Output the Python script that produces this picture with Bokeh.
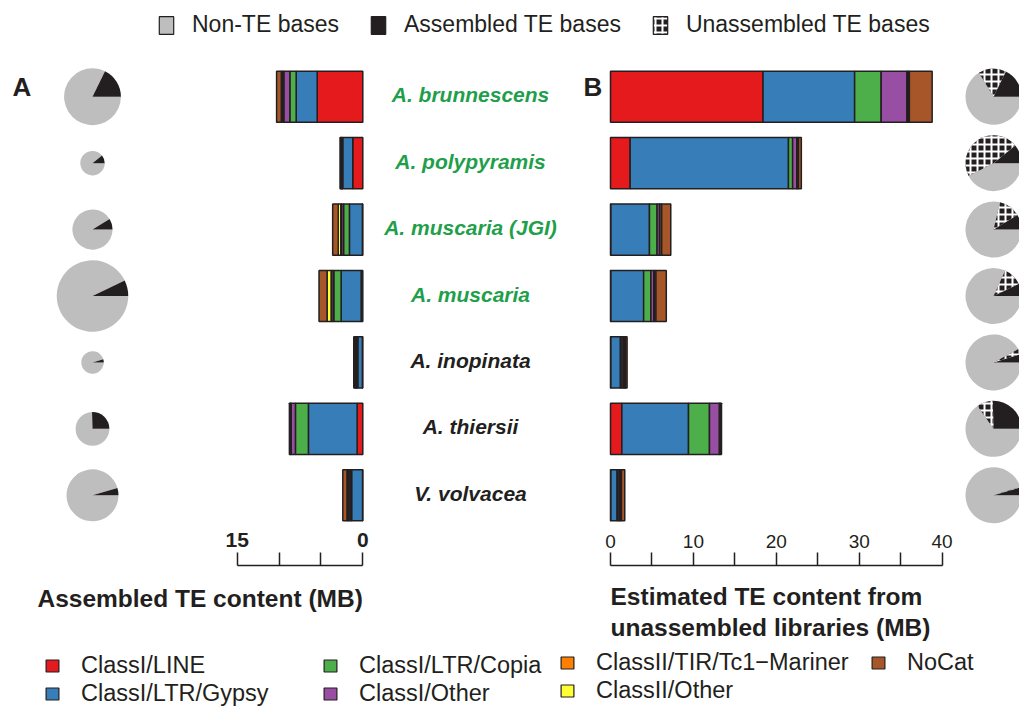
import numpy as np
from bokeh.plotting import figure
from bokeh.models import (Range1d, FactorRange, LinearAxis, FixedTicker, Legend, LegendItem,
                          Label, ColumnDataSource)
from bokeh.layouts import column, row
from bokeh.embed import file_html
from bokeh.resources import INLINE
from bokeh.core.properties import value

# ---------------- data ----------------
species = ["A. brunnescens", "A. polypyramis", "A. muscaria (JGI)", "A. muscaria",
           "A. inopinata", "A. thiersii", "V. volvacea"]
species_colors = ["#1f9f4b", "#1f9f4b", "#1f9f4b", "#1f9f4b", "#231f20", "#231f20", "#231f20"]

te_classes = ["ClassI/LINE", "ClassI/LTR/Gypsy", "ClassI/LTR/Copia", "ClassI/Other",
              "ClassII/TIR/Tc1\u2212Mariner", "ClassII/Other", "NoCat"]
class_colors = ["#e41a1c", "#377eb8", "#4daf4a", "#984ea3", "#ff7f00", "#ffff33", "#a65628"]

# Assembled TE content (MB), per class, species order as above
asm_line    = [5.45, 1.20, 0.05, 0.20, 0.05, 0.68, 0.03]
asm_gypsy   = [2.51, 1.20, 1.55, 2.39, 0.55, 5.82, 1.31]
asm_copia   = [0.76, 0.08, 0.70, 0.88, 0.10, 1.55, 0.15]
asm_other   = [0.72, 0.06, 0.25, 0.25, 0.10, 0.52, 0.20]
asm_tc1     = [0.15, 0.04, 0.08, 0.07, 0.05, 0.05, 0.10]
asm_c2other = [0.15, 0.04, 0.30, 0.48, 0.05, 0.05, 0.10]
asm_nocat   = [0.56, 0.10, 0.67, 0.96, 0.18, 0.10, 0.50]

# Estimated TE content from unassembled libraries (MB)
est_line    = [18.40, 2.37, 0.05, 0.05, 0.05, 1.37, 0.05]
est_gypsy   = [11.05, 19.10, 4.65, 3.95, 1.15, 8.04, 0.75]
est_copia   = [3.20, 0.50, 0.92, 0.88, 0.20, 2.53, 0.12]
est_other   = [3.10, 0.50, 0.30, 0.35, 0.20, 1.20, 0.20]
est_tc1     = [0.15, 0.10, 0.05, 0.05, 0.10, 0.05, 0.10]
est_c2other = [0.15, 0.10, 0.20, 0.20, 0.10, 0.05, 0.10]
est_nocat   = [2.75, 0.35, 1.10, 1.25, 0.20, 0.15, 0.40]

# Genome assembly size (MB) -> left pie size; unassembled TE fraction -> right pies
assembly_size = [58, 25, 41, 73, 23, 34.5, 53]
unassembled_frac = [0.16, 0.467, 0.125, 0.11, 0.032, 0.093, 0.004]

left_ticks = [0, 15]
left_minor = [5, 10]
right_ticks = [0, 10, 20, 30, 40]
right_minor = [5, 15, 25, 35]

# ---------------- styles / layout ----------------
FONT = "Liberation Sans"
DARK = "#231f20"
GRAY = "#bebebe"
W = 1019
H_TOP, H_MAIN, H_AX = 63, 465, 179
W_AXL = 556
W_AXR = W - W_AXL
PXL, PXR = 8.37, 8.29          # pixels per MB
ZL, ZR = 362.3, 610.0          # x of the two zero lines
PIE_L_X, PIE_R_X = 92, 993
PIE_PX_PER_MB = 0.49
PIE_R_RIGHT = 28

asm_cols = [asm_line, asm_gypsy, asm_copia, asm_other, asm_tc1, asm_c2other, asm_nocat]
est_cols = [est_line, est_gypsy, est_copia, est_other, est_tc1, est_c2other, est_nocat]

data = dict(species=species, scol=species_colors)
for i, c in enumerate(asm_cols):
    data[f"a{i}"] = c
for i, c in enumerate(est_cols):
    data[f"e{i}"] = c
asm_total = np.sum(np.array(asm_cols), axis=0)
asm_frac = asm_total / np.array(assembly_size)
two_pi = 2 * np.pi
data["r_left"] = list(np.array(assembly_size) * PIE_PX_PER_MB)
data["a_asm"] = list(asm_frac * two_pi)
data["a_un"] = list((asm_frac + np.array(unassembled_frac)) * two_pi)
data["zero"] = [0.0] * len(species)
data["full"] = [two_pi] * len(species)
src = ColumnDataSource(data)


def base_fig(width, height, **kw):
    p = figure(width=width, height=height, toolbar_location=None, output_backend="svg",
               x_axis_location=None, y_axis_location=None, min_border=0,
               min_border_left=0, min_border_right=0, min_border_bottom=0,
               outline_line_color=None, background_fill_color="white",
               border_fill_color="white", **kw)
    p.grid.visible = False
    return p


def proxy(fig, **kw):
    # legend proxy drawn outside the visible y-range
    return fig.hbar(y=[-5], left=[0], right=[0], height=0.1, **kw)


# ---------------- top legend ----------------
top = base_fig(W, H_TOP, x_range=Range1d(0, 1), y_range=Range1d(0, 1), min_border_top=0)
r_non = proxy(top, fill_color=GRAY, line_color=DARK, line_width=1.2)
r_asm = proxy(top, fill_color=DARK, line_color=DARK, line_width=1.2)
r_un = proxy(top, fill_color=DARK, line_color=DARK, line_width=1.2,
             hatch_pattern="+", hatch_color="white", hatch_scale=7, hatch_weight=2)
top_leg = Legend(items=[LegendItem(label="Non-TE bases", renderers=[r_non]),
                        LegendItem(label="Assembled TE bases", renderers=[r_asm]),
                        LegendItem(label="Unassembled TE bases", renderers=[r_un])],
                 orientation="horizontal", location=(157, 25), glyph_width=18, glyph_height=22,
                 label_standoff=17, spacing=30, padding=0, margin=0, border_line_color=None,
                 background_fill_alpha=0, label_text_font=FONT, label_text_font_size="23px",
                 label_text_color=DARK)
top.add_layout(top_leg)

# ---------------- main panel ----------------
M = base_fig(W, H_MAIN, x_range=Range1d(0, W), y_range=FactorRange(factors=species[::-1]),
             min_border_top=0)
M.extra_x_ranges = {"left": Range1d(ZL / PXL, -(W - ZL) / PXL),
                    "right": Range1d(-ZR / PXR, (W - ZR) / PXR)}

M.hbar_stack([f"a{i}" for i in range(7)], y="species", height=0.77, source=src,
             x_range_name="left", fill_color=class_colors, line_color=DARK, line_width=1.5)
M.hbar_stack([f"e{i}" for i in range(7)], y="species", height=0.77, source=src,
             x_range_name="right", fill_color=class_colors, line_color=DARK, line_width=1.5)

# left pies
M.wedge(x=PIE_L_X, y="species", radius="r_left", radius_units="screen", start_angle="a_asm",
        end_angle="full", fill_color=GRAY, line_color=None, source=src)
M.wedge(x=PIE_L_X, y="species", radius="r_left", radius_units="screen", start_angle="zero",
        end_angle="a_asm", fill_color=DARK, line_color=None, source=src)
# right pies
M.wedge(x=PIE_R_X, y="species", radius=PIE_R_RIGHT, radius_units="screen", start_angle="a_un",
        end_angle="full", fill_color=GRAY, line_color=None, source=src)
M.wedge(x=PIE_R_X, y="species", radius=PIE_R_RIGHT, radius_units="screen", start_angle="zero",
        end_angle="a_asm", fill_color=DARK, line_color=None, source=src)
M.wedge(x=PIE_R_X, y="species", radius=PIE_R_RIGHT, radius_units="screen", start_angle="a_asm",
        end_angle="a_un", fill_color=DARK, line_color=None, hatch_pattern="+",
        hatch_color="white", hatch_scale=7, hatch_weight=2, source=src)

M.text(x=470, y="species", text="species", text_color="scol", source=src,
       text_font=value(FONT), text_font_style="bold italic", text_font_size="21px",
       text_align="center", text_baseline="middle", y_offset=-2)

for txt, xx in (("A", 12), ("B", 583)):
    M.add_layout(Label(x=xx, y=442, x_units="screen", y_units="screen", text=txt,
                       text_font=FONT, text_font_style="bold", text_font_size="26px",
                       text_baseline="middle", text_color=DARK))

# ---------------- axes + bottom legends ----------------
def style_axis(ax, size, bold, standoff):
    ax.major_tick_out = 13
    ax.major_tick_in = 0
    ax.minor_tick_out = 13
    ax.minor_tick_in = 0
    ax.major_label_standoff = standoff
    ax.major_label_text_font = FONT
    ax.major_label_text_font_size = size
    ax.major_label_text_font_style = "bold" if bold else "normal"
    ax.major_label_text_color = DARK
    ax.axis_line_color = DARK
    ax.major_tick_line_color = DARK
    ax.minor_tick_line_color = DARK
    ax.axis_line_width = 1.5
    ax.major_tick_line_width = 1.5
    ax.minor_tick_line_width = 1.5


axL = base_fig(W_AXL, H_AX, x_range=Range1d(ZL / PXL, -(W_AXL - ZL) / PXL),
               y_range=Range1d(0, 1), min_border_top=35)
axisL = LinearAxis(ticker=FixedTicker(ticks=left_ticks, minor_ticks=left_minor), bounds=(0, 15))
style_axis(axisL, "21px", True, 6)
axL.add_layout(axisL, "above")
axL.add_layout(Label(x=0, y=109, y_units="screen", text="Assembled TE content (MB)",
                     text_align="right", text_baseline="middle", text_font=FONT,
                     text_font_style="bold", text_font_size="24.5px", text_color=DARK))

xr0 = -(ZR - W_AXL) / PXR
axR = base_fig(W_AXR, H_AX, x_range=Range1d(xr0, xr0 + W_AXR / PXR), y_range=Range1d(0, 1),
               min_border_top=37)
axisR = LinearAxis(ticker=FixedTicker(ticks=right_ticks, minor_ticks=right_minor), bounds=(0, 40))
style_axis(axisR, "19px", False, 5)
axR.add_layout(axisR, "above")
axR.add_layout(Label(x=0, y=125, y_units="screen",
                     text="Estimated TE content from\nunassembled libraries (MB)",
                     text_align="left", text_baseline="top", text_font=FONT,
                     text_font_style="bold", text_font_size="24.5px", text_color=DARK,
                     text_line_height=1.15))


def class_legend(fig, idxs, loc, size="23.5px"):
    items = []
    for i in idxs:
        r = proxy(fig, fill_color=class_colors[i], line_color=DARK, line_width=1.2)
        items.append(LegendItem(label=te_classes[i], renderers=[r]))
    lg = Legend(items=items, orientation="vertical", location=loc, glyph_width=16,
                glyph_height=15, label_standoff=21, spacing=1, padding=0, margin=0,
                border_line_color=None, background_fill_alpha=0, label_text_font=FONT,
                label_text_font_size=size, label_text_color=DARK)
    fig.add_layout(lg)


class_legend(axL, [0, 1], (44, 0))
class_legend(axL, [2, 3], (322, 0))
class_legend(axR, [4], (3, 31))
class_legend(axR, [5], (3, 3))
class_legend(axR, [6], (314, 31))

layout = column(top, M, row(axL, axR))
open("out.html", "w").write(file_html(layout, INLINE))
